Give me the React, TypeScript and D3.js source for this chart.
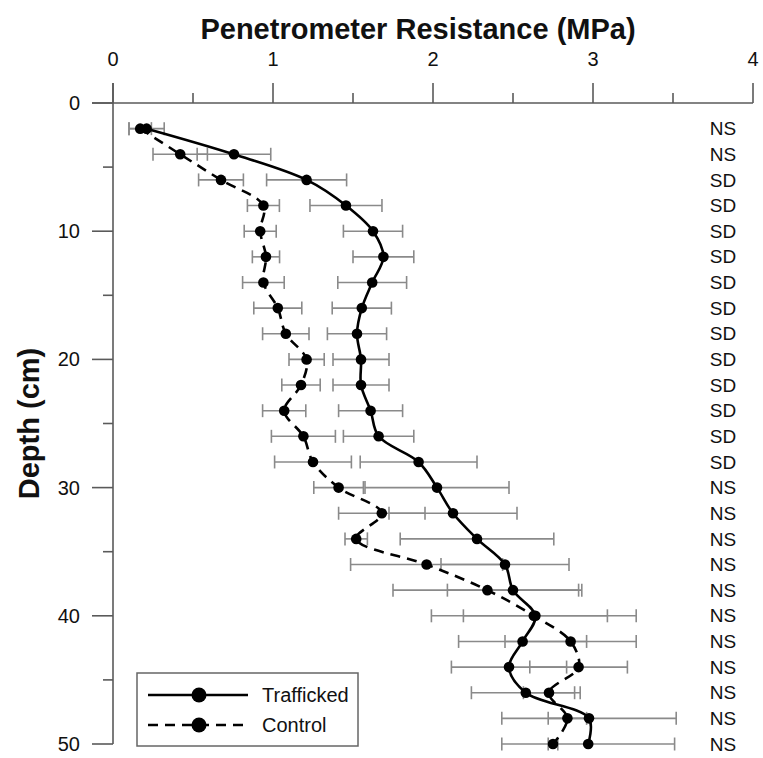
import React from "react";
import * as d3 from "d3";

const depths = [2, 4, 6, 8, 10, 12, 14, 16, 18, 20, 22, 24, 26, 28, 30, 32, 34, 36, 38, 40, 42, 44, 46, 48, 50];
const trafficked = [0.21, 0.756, 1.21, 1.456, 1.625, 1.69, 1.62, 1.555, 1.525, 1.55, 1.55, 1.61, 1.66, 1.91, 2.025, 2.125, 2.275, 2.45, 2.5, 2.64, 2.56, 2.475, 2.58, 2.975, 2.97];
const traffickedErr = [0.11, 0.23, 0.25, 0.225, 0.185, 0.19, 0.215, 0.185, 0.185, 0.175, 0.175, 0.2, 0.22, 0.365, 0.45, 0.4, 0.48, 0.4, 0.41, 0.45, 0.4, 0.36, 0.34, 0.545, 0.54];
const control = [0.17, 0.42, 0.675, 0.94, 0.92, 0.956, 0.94, 1.03, 1.08, 1.21, 1.175, 1.07, 1.19, 1.25, 1.41, 1.68, 1.52, 1.96, 2.34, 2.63, 2.86, 2.91, 2.725, 2.84, 2.75];
const controlErr = [0.07, 0.17, 0.14, 0.1, 0.1, 0.085, 0.13, 0.15, 0.145, 0.11, 0.12, 0.135, 0.2, 0.24, 0.155, 0.27, 0.07, 0.475, 0.59, 0.64, 0.41, 0.305, 0.16, 0.12, 0.03];
const signif = ["NS", "NS", "SD", "SD", "SD", "SD", "SD", "SD", "SD", "SD", "SD", "SD", "SD", "SD", "NS", "NS", "NS", "NS", "NS", "NS", "NS", "NS", "NS", "NS", "NS"];
const xTicks = [0, 1, 2, 3, 4];
const xMinor = [0.5, 1.5, 2.5, 3.5];
const yTicks = [0, 10, 20, 30, 40, 50];
const yMinor = [5, 15, 25, 35, 45];

const W = 763;
const H = 758;
const FONT = "'Liberation Sans', Arial, sans-serif";

export default function App() {
  const x = d3.scaleLinear().domain([0, 4]).range([113, 753]);
  const y = d3.scaleLinear().domain([0, 50]).range([103, 744]);

  const tData = depths.map((d, i) => ({ d, v: trafficked[i], e: traffickedErr[i] }));
  const cData = depths.map((d, i) => ({ d, v: control[i], e: controlErr[i] }));
  const line = d3
    .line<{ d: number; v: number }>()
    .x((p) => x(p.v))
    .y((p) => y(p.d))
    .curve(d3.curveCatmullRom.alpha(0.5));

  const errColor = "#8a8a8a";
  const axisColor = "#5a5a5a";

  const errBars = (data: { d: number; v: number; e: number }[], key: string) =>
    data.map((p, i) => {
      const yy = y(p.d);
      const x0 = x(p.v - p.e);
      const x1 = x(p.v + p.e);
      return (
        <g key={key + i} stroke={errColor} strokeWidth={1.6}>
          <line x1={x0} x2={x1} y1={yy} y2={yy} />
          <line x1={x0} x2={x0} y1={yy - 6.5} y2={yy + 6.5} />
          <line x1={x1} x2={x1} y1={yy - 6.5} y2={yy + 6.5} />
        </g>
      );
    });

  return (
    <div style={{ position: "absolute", left: 0, top: 0 }}>
      <svg width={W} height={H} style={{ display: "block", background: "#fff" }} fontFamily={FONT}>
        {/* title */}
        <text x={418} y={39} textAnchor="middle" fontSize={29} fontWeight="bold" fill="#111">
          Penetrometer Resistance (MPa)
        </text>
        <text
          transform={`translate(39,${y(25)}) rotate(-90)`}
          textAnchor="middle"
          fontSize={29}
          fontWeight="bold"
          fill="#111"
        >
          Depth (cm)
        </text>

        {/* top axis */}
        <line x1={92} x2={x(4)} y1={y(0)} y2={y(0)} stroke={axisColor} strokeWidth={1.6} />
        {xTicks.map((t) => (
          <g key={"xt" + t}>
            <line x1={x(t)} x2={x(t)} y1={y(0)} y2={y(0) - 20} stroke={axisColor} strokeWidth={1.6} />
            <text x={x(t)} y={66} textAnchor="middle" fontSize={20} fill="#111">
              {t}
            </text>
          </g>
        ))}
        {xMinor.map((t) => (
          <line key={"xm" + t} x1={x(t)} x2={x(t)} y1={y(0)} y2={y(0) - 10} stroke={axisColor} strokeWidth={1.6} />
        ))}

        {/* left axis */}
        <line x1={x(0)} x2={x(0)} y1={y(0) - 20} y2={y(50)} stroke={axisColor} strokeWidth={1.6} />
        {yTicks.map((t) => (
          <g key={"yt" + t}>
            <line x1={x(0) - 21} x2={x(0)} y1={y(t)} y2={y(t)} stroke={axisColor} strokeWidth={1.6} />
            <text x={80} y={y(t)} dy="0.35em" textAnchor="end" fontSize={20} fill="#111">
              {t}
            </text>
          </g>
        ))}
        {yMinor.map((t) => (
          <line key={"ym" + t} x1={x(0) - 10} x2={x(0)} y1={y(t)} y2={y(t)} stroke={axisColor} strokeWidth={1.6} />
        ))}

        {/* error bars */}
        {errBars(cData, "ce")}
        {errBars(tData, "te")}

        {/* lines */}
        <path d={line(cData) || ""} fill="none" stroke="#000" strokeWidth={2.6} strokeDasharray="10,7" />
        <path d={line(tData) || ""} fill="none" stroke="#000" strokeWidth={2.6} />

        {/* markers */}
        {cData.map((p, i) => (
          <circle key={"cm" + i} cx={x(p.v)} cy={y(p.d)} r={5.3} fill="#000" />
        ))}
        {tData.map((p, i) => (
          <circle key={"tm" + i} cx={x(p.v)} cy={y(p.d)} r={5.3} fill="#000" />
        ))}

        {/* significance labels */}
        {signif.map((s, i) => (
          <text key={"s" + i} x={723} y={y(depths[i])} dy="0.35em" textAnchor="middle" fontSize={19} fill="#111">
            {s}
          </text>
        ))}

        {/* legend */}
        <rect x={137} y={673} width={221} height={73} fill="#fff" stroke="#666" strokeWidth={1.5} />
        <line x1={148} x2={248} y1={695} y2={695} stroke="#000" strokeWidth={2.6} />
        <circle cx={199} cy={695} r={7.5} fill="#000" />
        <text x={262} y={695} dy="0.35em" fontSize={20} fill="#111">
          Trafficked
        </text>
        <line x1={148} x2={248} y1={725} y2={725} stroke="#000" strokeWidth={2.6} strokeDasharray="10,7" />
        <circle cx={199} cy={725} r={7.5} fill="#000" />
        <text x={262} y={725} dy="0.35em" fontSize={20} fill="#111">
          Control
        </text>
      </svg>
    </div>
  );
}
